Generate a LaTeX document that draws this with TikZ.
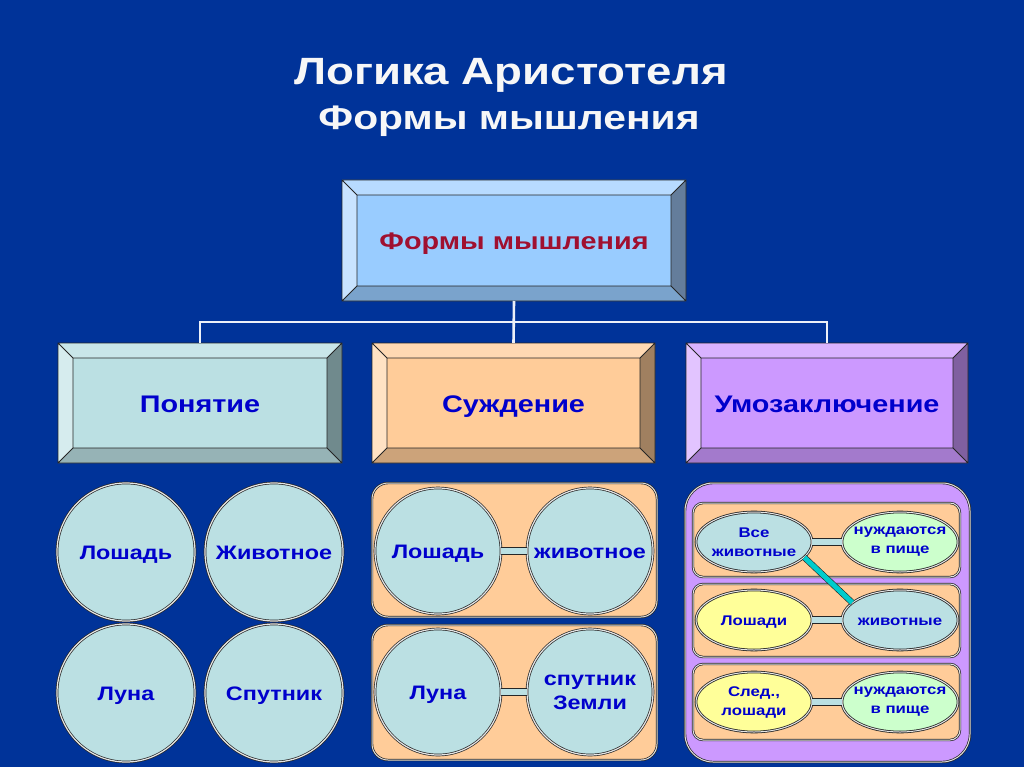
\documentclass[tikz,border=0pt]{standalone}
\usepackage{fontspec}
\setmainfont{Liberation Sans}[FakeStretch=1.2]
\usetikzlibrary{shapes.geometric}
\definecolor{bg}{RGB}{0,51,153}
\definecolor{lnk}{RGB}{236,240,248}
\definecolor{bF}{RGB}{153,204,255}
\definecolor{bT}{RGB}{184,219,255}
\definecolor{bL}{RGB}{200,227,255}
\definecolor{bR}{RGB}{100,125,155}
\definecolor{bB}{RGB}{122,163,204}
\definecolor{tF}{RGB}{187,224,227}
\definecolor{tT}{RGB}{201,230,233}
\definecolor{tL}{RGB}{214,236,238}
\definecolor{tR}{RGB}{112,138,141}
\definecolor{tB}{RGB}{150,179,182}
\definecolor{pF}{RGB}{255,204,153}
\definecolor{pT}{RGB}{255,217,179}
\definecolor{pL}{RGB}{255,226,196}
\definecolor{pR}{RGB}{160,128,96}
\definecolor{pB}{RGB}{204,163,122}
\definecolor{uF}{RGB}{204,153,255}
\definecolor{uT}{RGB}{217,179,255}
\definecolor{uL}{RGB}{226,196,255}
\definecolor{uR}{RGB}{128,96,160}
\definecolor{uB}{RGB}{163,122,204}
\definecolor{txtblue}{RGB}{0,0,204}
\definecolor{txtred}{RGB}{160,16,48}
\definecolor{lgreen}{RGB}{204,255,204}
\definecolor{yel}{RGB}{255,255,153}
\definecolor{cyanl}{RGB}{0,204,204}
\newcommand\bvbox[7]{%
 \fill[#6T] (#2,#3) -- (#4,#3) -- (#4-15,#3+15) -- (#2+15,#3+15) -- cycle;
 \fill[#6L] (#2,#3) -- (#2+15,#3+15) -- (#2+15,#5-15) -- (#2,#5) -- cycle;
 \fill[#6R] (#4,#3) -- (#4,#5) -- (#4-15,#5-15) -- (#4-15,#3+15) -- cycle;
 \fill[#6B] (#2,#5) -- (#4,#5) -- (#4-15,#5-15) -- (#2+15,#5-15) -- cycle;
 \fill[#6F] (#2+15,#3+15) rectangle (#4-15,#5-15);
 \draw[edge] (#2,#3) rectangle (#4,#5) (#2+15,#3+15) rectangle (#4-15,#5-15)
   (#2,#3) -- (#2+15,#3+15) (#4,#3) -- (#4-15,#3+15) (#2,#5) -- (#2+15,#5-15) (#4,#5) -- (#4-15,#5-15);
 \node[inner sep=0pt, outer sep=0pt, text height=18pt, text depth=0pt, minimum width={(#4-#2)*1pt}, minimum height={(#5-#3)*1pt}] (#1) at ({(#2+#4)/2},{(#3+#5)/2}) {#7};
}
\begin{document}
\begin{tikzpicture}[x=1pt, y=-1pt,
  edge/.style={draw=black!85, line width=0.8pt},
  link/.style={draw=lnk, line width=2.6pt},
  circ/.style={circle, draw=black!85, double=white!80!gray, double distance=1.2pt, line width=0.7pt, fill=tF, inner sep=0pt, minimum size=#1, font=\bfseries\fontsize{19.5}{24}\selectfont, text=txtblue, align=center},
  one/.style={text height=14pt, text depth=0pt},
  panel/.style={rectangle, rounded corners=#1, draw=black!85, double=white!75!gray, double distance=1pt, line width=0.7pt, inner sep=0pt},
  ell/.style={ellipse, draw=black!85, double=white!80!gray, double distance=1pt, line width=0.8pt, fill=#1, minimum width=116pt, minimum height=60pt, inner xsep=-20pt, inner ysep=0pt, font=\bfseries\fontsize{14}{19}\selectfont, text=txtblue, align=center},
  eone/.style={text height=10pt, text depth=0pt},
  bar/.style={draw=black!85, line width=0.7pt, double=tF, double distance=6.5pt},
  cyanbar/.style={draw=black!85, line width=0.6pt, double=cyanl, double distance=5pt}]
\fill[bg] (0,0) rectangle (1024,767);
\useasboundingbox (0,0) rectangle (1024,767);
% titles
\node[anchor=base, text=white!94!gray, font=\bfseries\fontsize{38}{42}\selectfont] (t1) at (511,85) {Логика Аристотеля};
\node[anchor=base, text=white!94!gray, font=\bfseries\fontsize{34}{38}\selectfont] (t2) at (509,130) {Формы мышления};
% bevel boxes
\bvbox{top}{342}{180}{686}{301}{b}{\color{txtred}\bfseries\fontsize{24}{28}\selectfont Формы мышления}
\bvbox{pon}{58}{343}{342}{463}{t}{\color{txtblue}\bfseries\fontsize{24}{28}\selectfont Понятие}
\bvbox{sud}{372}{343}{655}{463}{p}{\color{txtblue}\bfseries\fontsize{24}{28}\selectfont Суждение}
\bvbox{umo}{686}{343}{968}{463}{u}{\color{txtblue}\bfseries\fontsize{24}{28}\selectfont Умозаключение}
% hierarchy links
\coordinate (j) at (513.5,322);
\draw[link] (top.south) -- (sud.north);
\draw[link] (pon.north) |- (j) -| (umo.north);
% left circles
\node[circ=138pt, one] (c1) at (126,552) {Лошадь};
\node[circ=138pt, one] (c2) at (274,552) {Животное};
\node[circ=138pt, one] (c3) at (126,693) {Луна};
\node[circ=138pt, one] (c4) at (274,693) {Спутник};
% middle panels
\node[panel=16pt, fill=pF, minimum width=285pt, minimum height=134pt] (sp1) at (514.5,550) {};
\node[panel=16pt, fill=pF, minimum width=285pt, minimum height=135pt] (sp2) at (514.5,692.5) {};
\node[circ=126pt, one] (s1) at (438,551) {Лошадь};
\node[circ=126pt, one] (s2) at (590,551) {животное};
\node[circ=126pt, one] (s3) at (438,692) {Луна};
\node[circ=126pt] (s4) at (590,692) {спутник\\Земли};
\draw[bar] (s1) -- (s2);
\draw[bar] (s3) -- (s4);
% right panel
\node[panel=28pt, fill=uF, minimum width=285pt, minimum height=279pt] (up) at (827.5,622.5) {};
\node[panel=10pt, fill=pF, minimum width=267pt, minimum height=74pt] (r1) at (826.5,540) {};
\node[panel=10pt, fill=pF, minimum width=267pt, minimum height=73pt] (r2) at (826.5,620.5) {};
\node[panel=10pt, fill=pF, minimum width=267pt, minimum height=76pt] (r3) at (826.5,702) {};
\node[ell=tF] (a1) at (754,542) {Все\\животные};
\node[ell=lgreen] (b1) at (900,542) {нуждаются\\в пище};
\node[ell=yel, eone] (a2) at (754,620) {Лошади};
\node[ell=tF, eone] (b2) at (900,620) {животные};
\node[ell=yel] (a3) at (754,702) {След.,\\лошади};
\node[ell=lgreen] (b3) at (900,702) {нуждаются\\в пище};
\draw[bar] (a1) -- (b1);
\draw[bar] (a2) -- (b2);
\draw[bar] (a3) -- (b3);
\draw[cyanbar] (a1.-17) -- (b2.160);
\end{tikzpicture}
\end{document}
